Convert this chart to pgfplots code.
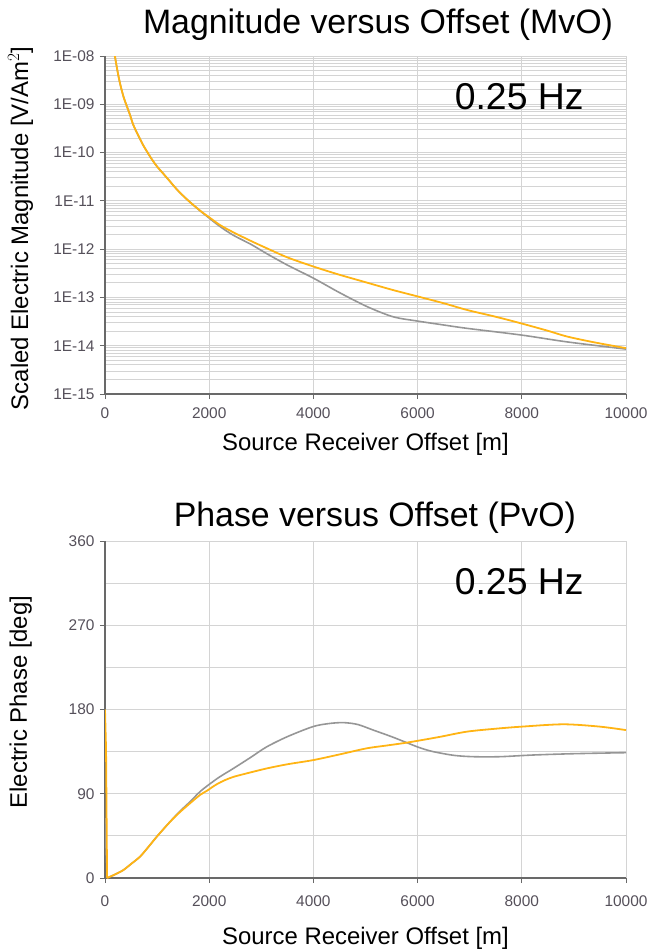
\documentclass[border=0pt]{standalone}
\usepackage{fontspec}
\setmainfont{Liberation Sans}
\usepackage{pgfplots}
\pgfplotsset{compat=1.18}

\definecolor{mvoorange}{RGB}{255,180,20}
\definecolor{mvogray}{RGB}{150,150,150}
\definecolor{gridgray}{RGB}{212,212,212}
\definecolor{axisgray}{RGB}{105,105,105}
\definecolor{ticktext}{RGB}{85,80,90}

\tikzset{hzlabel/.style={font=\fontsize{37.5}{42}\selectfont, anchor=center}}

\pgfplotsset{
  offsetaxis/.style={
    scale only axis, width=521bp,
    xmin=0, xmax=10000, xtick={0,2000,...,10000},
    scaled x ticks=false,
    axis x line*=bottom, axis y line*=left,
    axis line style={-, axisgray, line width=1.1pt},
    tick align=outside, major tick length=5bp, minor tick length=0pt,
    major tick style={axisgray, line width=1pt},
    xmajorgrids, ymajorgrids, yminorgrids,
    major grid style={gridgray, line width=0.9pt},
    minor grid style={gridgray, line width=0.9pt},
    tick label style={font=\fontsize{15.5}{18}\selectfont, text=ticktext},
    xticklabel style={yshift=-5bp},
    yticklabel style={xshift=-2bp},
    /pgf/number format/assume math mode=true,
    /pgf/number format/1000 sep={},
    xlabel={Source Receiver Offset [m]},
    label style={font=\fontsize{24}{28}\selectfont},
    title style={font=\fontsize{34}{39}\selectfont, anchor=center},
  },
}

\begin{document}
\begin{tikzpicture}
\useasboundingbox (0,0) rectangle (648bp,-951bp);

% ---------- Magnitude versus offset ----------
\begin{axis}[offsetaxis,
  at={(105bp,-394bp)}, anchor=south west, height=338bp,
  ymode=log, ymin=1e-15, ymax=1e-8,
  ytick={1e-15,1e-14,1e-13,1e-12,1e-11,1e-10,1e-9,1e-8},
  yticklabels={1E-15,1E-14,1E-13,1E-12,1E-11,1E-10,1E-09,1E-08},
  minor ytick={2e-15,3e-15,4e-15,5e-15,6e-15,7e-15,8e-15,9e-15,
               2e-14,3e-14,4e-14,5e-14,6e-14,7e-14,8e-14,9e-14,
               2e-13,3e-13,4e-13,5e-13,6e-13,7e-13,8e-13,9e-13,
               2e-12,3e-12,4e-12,5e-12,6e-12,7e-12,8e-12,9e-12,
               2e-11,3e-11,4e-11,5e-11,6e-11,7e-11,8e-11,9e-11,
               2e-10,3e-10,4e-10,5e-10,6e-10,7e-10,8e-10,9e-10,
               2e-9,3e-9,4e-9,5e-9,6e-9,7e-9,8e-9,9e-9},
  title={Magnitude versus Offset (MvO)},
  title style={at={(0.524,1.076)}},
  xlabel style={at={(0.5,-0.148)}, anchor=center},
  ylabel={Scaled Electric Magnitude [V/Am$^2$]},
  ylabel style={at={(-0.162,0.49)}, anchor=center},
]
% background model response
\addplot[mvogray, line width=1.6pt, smooth, tension=0.5] coordinates {
  (150,2.00e-8) (190,1.00e-8) (250,4.27e-9) (300,2.40e-9) (360,1.38e-9)
  (416,9.33e-10) (480,6.03e-10) (537,3.89e-10) (600,2.75e-10) (672,1.91e-10)
  (740,1.38e-10) (806,1.05e-10) (900,7.24e-11) (1000,5.13e-11) (1113,3.72e-11)
  (1250,2.51e-11) (1376,1.74e-11) (1574,1.07e-11) (1823,6.25e-12) (2000,4.40e-12)
  (2200,2.98e-12) (2460,1.95e-12) (2800,1.26e-12) (3100,8.13e-13) (3500,4.68e-13)
  (4000,2.51e-13) (4500,1.26e-13) (5030,6.46e-14) (5530,3.98e-14) (6000,3.24e-14)
  (6500,2.69e-14) (6950,2.29e-14) (8000,1.66e-14) (8870,1.20e-14) (10000,8.51e-15)
};
% response with resistor
\addplot[mvoorange, line width=1.8pt, smooth, tension=0.5] coordinates {
  (150,2.00e-8) (190,1.00e-8) (250,4.27e-9) (300,2.40e-9) (360,1.38e-9)
  (416,9.33e-10) (480,6.03e-10) (537,3.89e-10) (600,2.75e-10) (672,1.91e-10)
  (740,1.38e-10) (806,1.05e-10) (900,7.24e-11) (1000,5.13e-11) (1113,3.72e-11)
  (1250,2.51e-11) (1376,1.74e-11) (1574,1.07e-11) (1823,6.31e-12) (2000,4.57e-12)
  (2207,3.16e-12) (2460,2.24e-12) (2800,1.48e-12) (3100,1.05e-12) (3500,6.76e-13)
  (4000,4.37e-13) (4500,2.95e-13) (5020,2.04e-13) (5500,1.45e-13) (6000,1.05e-13)
  (6500,7.59e-14) (6950,5.50e-14) (7500,3.98e-14) (8000,2.88e-14) (8500,2.04e-14)
  (8870,1.55e-14) (9400,1.17e-14) (10000,8.91e-15)
};
\node[hzlabel] at (rel axis cs:0.795,0.879) {0.25 Hz};
\end{axis}

% ---------- Phase versus offset ----------
\begin{axis}[offsetaxis,
  at={(105bp,-878bp)}, anchor=south west, height=337bp,
  ymin=0, ymax=360, ytick={0,90,180,270,360},
  minor ytick={45,135,225,315},
  xticklabel style={yshift=-4bp},
  title={Phase versus Offset (PvO)},
  title style={at={(0.518,1.051)}},
  xlabel style={at={(0.5,-0.178)}, anchor=center},
  ylabel={Electric Phase [deg]},
  ylabel style={at={(-0.162,0.522)}, anchor=center},
]
% near-source jumps
\addplot[mvogray, line width=1.6pt] coordinates {(0,64) (40,0)};
\addplot[mvoorange, line width=1.8pt] coordinates {(0,180) (20,138) (40,0)};
% background model response
\addplot[mvogray, line width=1.6pt, smooth, tension=0.5] coordinates {
  (40,0) (96,1.4) (200,4) (352,8.5) (500,15) (672,22.8) (830,33)
  (992,44) (1150,54) (1312,64) (1470,73) (1632,81.5) (1823,92.2) (2000,100)
  (2200,108) (2463,117) (2800,129) (3100,140) (3500,151) (3990,161.7)
  (4300,165) (4575,166) (4850,164) (5150,158) (5500,151) (5790,144.6)
  (6050,139) (6300,135) (6700,131) (7070,129.6) (7580,129.6) (8220,131.4)
  (9000,132.8) (10000,133.9)
};
% response with resistor
\addplot[mvoorange, line width=1.8pt, smooth, tension=0.5] coordinates {
  (40,0) (96,1.4) (200,4) (352,8.5) (500,15) (672,22.8)
  (830,33) (992,44) (1150,54) (1312,63.7) (1470,72) (1632,79.8) (1823,88.7)
  (1950,93) (2140,100) (2300,104.5) (2463,108) (2700,111.5) (3100,117)
  (3500,121.5) (4000,126) (4500,132) (5020,138.5) (5400,141.5) (5790,144.6)
  (6400,150.5) (6940,156.3) (7500,159.5) (8000,161.7) (8800,164.2)
  (9500,161.7) (10000,158)
};
\node[hzlabel] at (rel axis cs:0.795,0.878) {0.25 Hz};
\end{axis}
\end{tikzpicture}
\end{document}
